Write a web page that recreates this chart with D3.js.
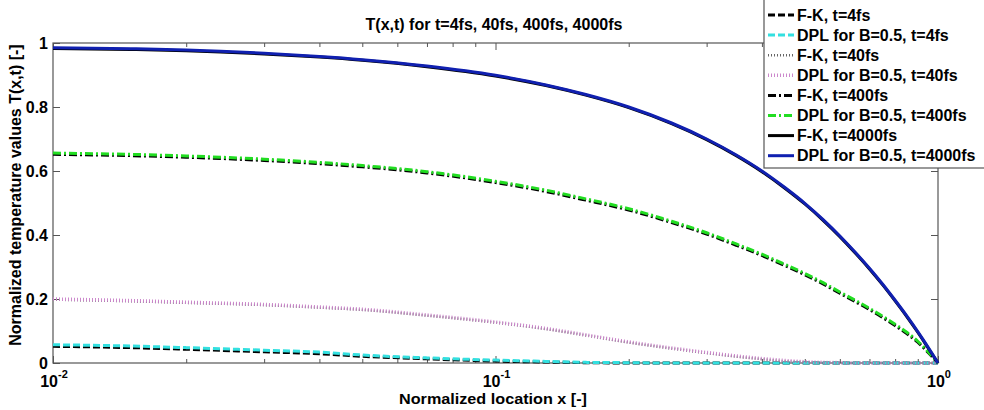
<!DOCTYPE html>
<html><head><meta charset="utf-8">
<script src="https://cdn.jsdelivr.net/npm/d3@7"></script>
<style>
body{margin:0;background:#fff;}
svg{display:block;}
text{font-family:"Liberation Sans",Arial,sans-serif;font-weight:bold;fill:#000;}
</style></head>
<body><svg id="c" width="984" height="410"></svg>
<script>
// ---- data ----
const xValues = [0.01, 0.015, 0.02, 0.03, 0.04, 0.05, 0.07, 0.1, 0.13, 0.16, 0.2, 0.25, 0.3, 0.35, 0.4, 0.45,
                 0.5, 0.55, 0.6, 0.65, 0.7, 0.75, 0.8, 0.85, 0.9, 0.95, 1.0];

const dpl4   = [0.057, 0.053, 0.048, 0.040, 0.034, 0.025, 0.016, 0.009, 0.005, 0.002, 0.001, 0, 0, 0, 0, 0,
                0, 0, 0, 0, 0, 0, 0, 0, 0, 0, 0];
const fk4    = [0.052, 0.048, 0.043, 0.035, 0.029, 0.021, 0.013, 0.006, 0.003, 0.001, 0, 0, 0, 0, 0, 0,
                0, 0, 0, 0, 0, 0, 0, 0, 0, 0, 0];
const dpl40  = [0.200, 0.195, 0.190, 0.183, 0.175, 0.168, 0.150, 0.128, 0.108, 0.088, 0.066, 0.047, 0.033, 0.022, 0.014, 0.008,
                0.004, 0.002, 0.001, 0, 0, 0, 0, 0, 0, 0, 0];
const fk40   = [0.198, 0.193, 0.188, 0.181, 0.173, 0.166, 0.148, 0.126, 0.106, 0.086, 0.064, 0.045, 0.031, 0.020, 0.012, 0.006,
                0.003, 0.001, 0, 0, 0, 0, 0, 0, 0, 0, 0];
const dpl400 = [0.656, 0.652, 0.647, 0.637, 0.627, 0.617, 0.598, 0.568, 0.540, 0.513, 0.482, 0.443, 0.407, 0.372, 0.340, 0.309,
                0.280, 0.251, 0.222, 0.196, 0.171, 0.146, 0.121, 0.096, 0.068, 0.035, 0];
const fk400  = [0.652, 0.648, 0.643, 0.633, 0.623, 0.613, 0.594, 0.564, 0.536, 0.509, 0.478, 0.439, 0.403, 0.368, 0.336, 0.305,
                0.276, 0.247, 0.218, 0.192, 0.167, 0.142, 0.117, 0.092, 0.065, 0.033, 0];
const dpl4000= [0.985, 0.982, 0.978, 0.968, 0.958, 0.948, 0.928, 0.899, 0.869, 0.839, 0.800, 0.750, 0.700, 0.650, 0.600, 0.549,
                0.499, 0.448, 0.397, 0.346, 0.296, 0.246, 0.196, 0.147, 0.098, 0.049, 0];
const fk4000 = [0.983, 0.980, 0.976, 0.966, 0.956, 0.946, 0.926, 0.897, 0.867, 0.837, 0.798, 0.748, 0.698, 0.648, 0.598, 0.547,
                0.497, 0.446, 0.395, 0.344, 0.294, 0.244, 0.194, 0.145, 0.096, 0.047, 0];

const seriesNames = ["F-K, t=4fs", "DPL for B=0.5, t=4fs", "F-K, t=40fs", "DPL for B=0.5, t=40fs",
                     "F-K, t=400fs", "DPL for B=0.5, t=400fs", "F-K, t=4000fs", "DPL for B=0.5, t=4000fs"];
const seriesValues = [fk4, dpl4, fk40, dpl40, fk400, dpl400, fk4000, dpl4000];
const seriesColors = ["#000000", "#33e0e0", "#666666", "#cc88cc", "#000000", "#22dd22", "#000000", "#1020b0"];
const seriesDash   = ["7,3", "7,3", "1,2", "1,2", "8,3,2,3", "8,3,2,3", null, null];
const seriesWidth  = [3, 3, 2.5, 3.5, 3, 3, 3, 3];

const xMajorTicks = [0.01, 0.1, 1];
const xMajorExp   = ["-2", "-1", "0"];
const xMinorTicks = [0.02,0.03,0.04,0.05,0.06,0.07,0.08,0.09,0.2,0.3,0.4,0.5,0.6,0.7,0.8,0.9];
const yTicks      = [0, 0.2, 0.4, 0.6, 0.8, 1];
const yTickLabels = ["0", "0.2", "0.4", "0.6", "0.8", "1"];

const titleText  = "T(x,t) for t=4fs, 40fs, 400fs, 4000fs";
const xLabelText = "Normalized location x [-]";
const yLabelText = "Normalized temperature values T(x,t) [-]";

// ---- drawing ----
const svg = d3.select("#c");
const L = 53, R = 938, T = 43, B = 363;
const x = d3.scaleLog().domain([0.01, 1]).range([L, R]);
const y = d3.scaleLinear().domain([0, 1]).range([B, T]);
const axisColor = "#555";

function styleAxis(g){
  g.select(".domain").remove();
  g.selectAll(".tick line").attr("stroke", axisColor).attr("stroke-width", 1);
  g.selectAll(".tick text").remove();
}
svg.append("g").attr("transform", `translate(0,${B})`)
  .call(d3.axisBottom(x).tickValues(xMajorTicks).tickSize(-7).tickFormat("")).call(styleAxis);
svg.append("g").attr("transform", `translate(0,${B})`)
  .call(d3.axisBottom(x).tickValues(xMinorTicks).tickSize(-4).tickFormat("")).call(styleAxis);
svg.append("g").attr("transform", `translate(0,${T})`)
  .call(d3.axisTop(x).tickValues(xMajorTicks).tickSize(-7).tickFormat("")).call(styleAxis);
svg.append("g").attr("transform", `translate(0,${T})`)
  .call(d3.axisTop(x).tickValues(xMinorTicks).tickSize(-4).tickFormat("")).call(styleAxis);
svg.append("g").attr("transform", `translate(${L},0)`)
  .call(d3.axisLeft(y).tickValues(yTicks).tickSize(-7).tickFormat("")).call(styleAxis);
svg.append("g").attr("transform", `translate(${R},0)`)
  .call(d3.axisRight(y).tickValues(yTicks).tickSize(-7).tickFormat("")).call(styleAxis);

svg.append("rect").attr("x", L).attr("y", T).attr("width", R - L).attr("height", B - T)
  .attr("fill", "none").attr("stroke", axisColor).attr("stroke-width", 1.2);

// x tick labels with superscript (whole label centred on the tick)
xMajorTicks.forEach((v, i) => {
  const t = svg.append("text").attr("x", x(v) + 1).attr("y", 387).attr("text-anchor", "middle")
    .attr("font-size", 16);
  t.append("tspan").text("10");
  t.append("tspan").attr("dy", -9).attr("font-size", 11).text(xMajorExp[i]);
});
yTicks.forEach((v, i) => {
  svg.append("text").attr("x", 48).attr("y", y(v)).attr("dy", "0.36em").attr("text-anchor", "end")
    .attr("font-size", 16).text(yTickLabels[i]);
});

// lines
const line = d3.line().x(d => x(d[0])).y(d => y(d[1])).curve(d3.curveMonotoneX);
const gLines = svg.append("g");
seriesValues.forEach((vals, i) => {
  const pts = xValues.map((xv, j) => [xv, vals[j]]);
  gLines.append("path").datum(pts).attr("d", line).attr("fill", "none")
    .attr("stroke", seriesColors[i]).attr("stroke-width", seriesWidth[i])
    .attr("stroke-dasharray", seriesDash[i]);
});

// title and axis labels
svg.append("text").attr("x", 494).attr("y", 30).attr("text-anchor", "middle").attr("font-size", 16)
  .attr("textLength", 257).attr("lengthAdjust", "spacingAndGlyphs").text(titleText);
svg.append("text").attr("x", 493).attr("y", 404).attr("text-anchor", "middle").attr("font-size", 15)
  .attr("textLength", 188).attr("lengthAdjust", "spacingAndGlyphs").text(xLabelText);
svg.append("text").attr("transform", "translate(21,195) rotate(-90)").attr("text-anchor", "middle")
  .attr("font-size", 16).text(yLabelText);

// legend
const lg = svg.append("g");
lg.append("rect").attr("x", 764).attr("y", -2).attr("width", 240).attr("height", 170)
  .attr("fill", "#fff").attr("stroke", axisColor).attr("stroke-width", 1.2);
seriesNames.forEach((name, i) => {
  const yy = 15 + i * 20.1;
  lg.append("line").attr("x1", 768).attr("x2", 794).attr("y1", yy).attr("y2", yy)
    .attr("stroke", seriesColors[i]).attr("stroke-width", seriesWidth[i])
    .attr("stroke-dasharray", seriesDash[i]);
  lg.append("text").attr("x", 797).attr("y", yy).attr("dy", "0.36em").attr("font-size", 16).text(name);
});
</script></body></html>
